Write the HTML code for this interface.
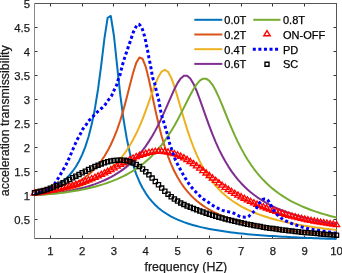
<!DOCTYPE html>
<html><head><meta charset="utf-8"><style>
html,body{margin:0;padding:0;background:#fff;}
body{width:342px;height:273px;overflow:hidden;font-family:"Liberation Sans", sans-serif;}
svg{display:block;will-change:transform;}
</style></head><body>
<svg width="342" height="273" viewBox="0 0 342 273">
<path d="M50.50,238.5 v-3 M50.50,3.5 v3 M82.50,238.5 v-3 M82.50,3.5 v3 M113.50,238.5 v-3 M113.50,3.5 v3 M145.50,238.5 v-3 M145.50,3.5 v3 M177.50,238.5 v-3 M177.50,3.5 v3 M209.50,238.5 v-3 M209.50,3.5 v3 M241.50,238.5 v-3 M241.50,3.5 v3 M272.50,238.5 v-3 M272.50,3.5 v3 M304.50,238.5 v-3 M304.50,3.5 v3 M336.50,238.5 v-3 M336.50,3.5 v3 M34.5,219.50 h3 M336.5,219.50 h-3 M34.5,195.50 h3 M336.5,195.50 h-3 M34.5,171.50 h3 M336.5,171.50 h-3 M34.5,147.50 h3 M336.5,147.50 h-3 M34.5,123.50 h3 M336.5,123.50 h-3 M34.5,99.50 h3 M336.5,99.50 h-3 M34.5,75.50 h3 M336.5,75.50 h-3 M34.5,51.50 h3 M336.5,51.50 h-3 M34.5,27.50 h3 M336.5,27.50 h-3 M34.5,3.50 h3 M336.5,3.50 h-3" stroke="#333" stroke-width="1" fill="none"/>
<path d="M34.5,3.5 H336.5 V238.5 H34.5" fill="none" stroke="#555" stroke-width="1"/>
<path d="M34.5,3 V239" fill="none" stroke="#8a8a8a" stroke-width="1"/>
<path d="M34.50,193.89 L37.68,193.23 L40.86,192.42 L44.04,191.46 L47.22,190.33 L50.39,189.00 L53.57,187.46 L56.75,185.67 L59.93,183.60 L63.11,181.19 L66.29,178.38 L69.47,175.11 L72.65,171.26 L75.83,166.70 L79.01,161.25 L82.18,154.68 L85.36,146.67 L88.54,136.76 L91.72,124.36 L94.90,108.71 L98.08,88.97 L101.26,64.85 L104.44,38.47 L107.62,17.89 L110.79,15.97 L113.97,36.00 L117.15,66.19 L120.33,95.27 L123.51,119.27 L126.69,138.17 L129.87,152.97 L133.05,164.67 L136.23,174.06 L139.41,181.71 L142.58,188.03 L145.76,193.33 L148.94,197.82 L152.12,201.67 L155.30,205.00 L158.48,207.91 L161.66,210.46 L164.84,212.72 L168.02,214.73 L171.19,216.53 L174.37,218.15 L177.55,219.61 L180.73,220.94 L183.91,222.15 L187.09,223.25 L190.27,224.27 L193.45,225.20 L196.63,226.06 L199.81,226.86 L202.98,227.60 L206.16,228.28 L209.34,228.92 L212.52,229.52 L215.70,230.08 L218.88,230.60 L222.06,231.09 L225.24,231.55 L228.42,231.99 L231.59,232.39 L234.77,232.78 L237.95,233.14 L241.13,233.49 L244.31,233.82 L247.49,234.13 L250.67,234.42 L253.85,234.70 L257.03,234.97 L260.21,235.22 L263.38,235.46 L266.56,235.69 L269.74,235.91 L272.92,236.12 L276.10,236.32 L279.28,236.51 L282.46,236.70 L285.64,236.87 L288.82,237.04 L291.99,237.21 L295.17,237.36 L298.35,237.51 L301.53,237.66 L304.71,237.79 L307.89,237.93 L311.07,238.06 L314.25,238.18 L317.43,238.30 L320.61,238.41 L323.78,238.53 L326.96,238.63 L330.14,238.74 L333.32,238.84 L336.50,238.93" fill="none" stroke="#0072BD" stroke-width="2.00" stroke-linejoin="round"/>
<path d="M34.50,194.56 L37.68,194.21 L40.86,193.80 L44.04,193.31 L47.22,192.74 L50.39,192.09 L53.57,191.35 L56.75,190.52 L59.93,189.59 L63.11,188.55 L66.29,187.39 L69.47,186.09 L72.65,184.65 L75.83,183.04 L79.01,181.25 L82.18,179.24 L85.36,177.01 L88.54,174.50 L91.72,171.68 L94.90,168.51 L98.08,164.92 L101.26,160.84 L104.44,156.19 L107.62,150.86 L110.79,144.75 L113.97,137.70 L117.15,129.58 L120.33,120.24 L123.51,109.62 L126.69,97.79 L129.87,85.21 L133.05,72.94 L136.23,62.87 L139.41,57.51 L142.58,58.80 L145.76,66.84 L148.94,79.70 L152.12,94.72 L155.30,109.81 L158.48,123.78 L161.66,136.19 L164.84,146.98 L168.02,156.29 L171.19,164.31 L174.37,171.23 L177.55,177.24 L180.73,182.47 L183.91,187.06 L187.09,191.11 L190.27,194.69 L193.45,197.89 L196.63,200.74 L199.81,203.32 L202.98,205.64 L206.16,207.75 L209.34,209.66 L212.52,211.42 L215.70,213.02 L218.88,214.50 L222.06,215.86 L225.24,217.12 L228.42,218.28 L231.59,219.37 L234.77,220.37 L237.95,221.31 L241.13,222.19 L244.31,223.02 L247.49,223.79 L250.67,224.51 L253.85,225.19 L257.03,225.84 L260.21,226.44 L263.38,227.02 L266.56,227.56 L269.74,228.08 L272.92,228.56 L276.10,229.03 L279.28,229.47 L282.46,229.88 L285.64,230.28 L288.82,230.66 L291.99,231.03 L295.17,231.37 L298.35,231.70 L301.53,232.02 L304.71,232.32 L307.89,232.61 L311.07,232.89 L314.25,233.16 L317.43,233.42 L320.61,233.66 L323.78,233.90 L326.96,234.13 L330.14,234.35 L333.32,234.56 L336.50,234.76" fill="none" stroke="#D95319" stroke-width="2.00" stroke-linejoin="round"/>
<path d="M34.50,194.81 L37.68,194.57 L40.86,194.29 L44.04,193.96 L47.22,193.58 L50.39,193.15 L53.57,192.67 L56.75,192.13 L59.93,191.53 L63.11,190.86 L66.29,190.13 L69.47,189.33 L72.65,188.45 L75.83,187.49 L79.01,186.44 L82.18,185.28 L85.36,184.03 L88.54,182.65 L91.72,181.15 L94.90,179.50 L98.08,177.70 L101.26,175.72 L104.44,173.54 L107.62,171.15 L110.79,168.50 L113.97,165.58 L117.15,162.35 L120.33,158.75 L123.51,154.76 L126.69,150.30 L129.87,145.32 L133.05,139.76 L136.23,133.55 L139.41,126.65 L142.58,119.03 L145.76,110.73 L148.94,101.90 L152.12,92.85 L155.30,84.17 L158.48,76.71 L161.66,71.56 L164.84,69.75 L168.02,71.85 L171.19,77.70 L174.37,86.42 L177.55,96.86 L180.73,107.92 L183.91,118.83 L187.09,129.10 L190.27,138.52 L193.45,147.02 L196.63,154.63 L199.81,161.40 L202.98,167.44 L206.16,172.82 L209.34,177.62 L212.52,181.92 L215.70,185.79 L218.88,189.28 L222.06,192.43 L225.24,195.29 L228.42,197.90 L231.59,200.28 L234.77,202.46 L237.95,204.47 L241.13,206.32 L244.31,208.02 L247.49,209.60 L250.67,211.07 L253.85,212.43 L257.03,213.70 L260.21,214.89 L263.38,216.00 L266.56,217.04 L269.74,218.02 L272.92,218.93 L276.10,219.80 L279.28,220.62 L282.46,221.39 L285.64,222.12 L288.82,222.81 L291.99,223.46 L295.17,224.08 L298.35,224.67 L301.53,225.23 L304.71,225.77 L307.89,226.28 L311.07,226.76 L314.25,227.23 L317.43,227.67 L320.61,228.09 L323.78,228.50 L326.96,228.89 L330.14,229.26 L333.32,229.62 L336.50,229.96" fill="none" stroke="#EDB120" stroke-width="2.00" stroke-linejoin="round"/>
<path d="M34.50,194.93 L37.68,194.75 L40.86,194.54 L44.04,194.29 L47.22,194.01 L50.39,193.69 L53.57,193.33 L56.75,192.93 L59.93,192.48 L63.11,192.00 L66.29,191.47 L69.47,190.89 L72.65,190.25 L75.83,189.57 L79.01,188.83 L82.18,188.02 L85.36,187.15 L88.54,186.21 L91.72,185.19 L94.90,184.10 L98.08,182.91 L101.26,181.63 L104.44,180.24 L107.62,178.74 L110.79,177.11 L113.97,175.35 L117.15,173.44 L120.33,171.36 L123.51,169.09 L126.69,166.62 L129.87,163.93 L133.05,160.98 L136.23,157.76 L139.41,154.22 L142.58,150.34 L145.76,146.07 L148.94,141.39 L152.12,136.25 L155.30,130.63 L158.48,124.52 L161.66,117.93 L164.84,110.92 L168.02,103.63 L171.19,96.29 L174.37,89.27 L177.55,83.10 L180.73,78.41 L183.91,75.83 L187.09,75.83 L190.27,78.56 L193.45,83.78 L196.63,90.93 L199.81,99.34 L202.98,108.33 L206.16,117.40 L209.34,126.17 L212.52,134.44 L215.70,142.10 L218.88,149.12 L222.06,155.52 L225.24,161.32 L228.42,166.59 L231.59,171.36 L234.77,175.68 L237.95,179.62 L241.13,183.20 L244.31,186.48 L247.49,189.47 L250.67,192.21 L253.85,194.74 L257.03,197.06 L260.21,199.21 L263.38,201.20 L266.56,203.05 L269.74,204.76 L272.92,206.36 L276.10,207.85 L279.28,209.25 L282.46,210.55 L285.64,211.78 L288.82,212.93 L291.99,214.02 L295.17,215.04 L298.35,216.00 L301.53,216.92 L304.71,217.78 L307.89,218.60 L311.07,219.37 L314.25,220.11 L317.43,220.81 L320.61,221.48 L323.78,222.11 L326.96,222.72 L330.14,223.29 L333.32,223.84 L336.50,224.37" fill="none" stroke="#7E2F8E" stroke-width="2.00" stroke-linejoin="round"/>
<path d="M34.50,195.01 L37.68,194.87 L40.86,194.70 L44.04,194.50 L47.22,194.28 L50.39,194.02 L53.57,193.74 L56.75,193.42 L59.93,193.07 L63.11,192.69 L66.29,192.28 L69.47,191.82 L72.65,191.34 L75.83,190.81 L79.01,190.24 L82.18,189.63 L85.36,188.97 L88.54,188.26 L91.72,187.50 L94.90,186.69 L98.08,185.82 L101.26,184.88 L104.44,183.88 L107.62,182.81 L110.79,181.66 L113.97,180.42 L117.15,179.10 L120.33,177.68 L123.51,176.15 L126.69,174.51 L129.87,172.74 L133.05,170.83 L136.23,168.77 L139.41,166.55 L142.58,164.15 L145.76,161.55 L148.94,158.73 L152.12,155.67 L155.30,152.36 L158.48,148.75 L161.66,144.84 L164.84,140.59 L168.02,135.98 L171.19,131.00 L174.37,125.65 L177.55,119.93 L180.73,113.90 L183.91,107.64 L187.09,101.28 L190.27,95.07 L193.45,89.30 L196.63,84.36 L199.81,80.69 L202.98,78.70 L206.16,78.70 L209.34,80.79 L212.52,84.83 L215.70,90.50 L218.88,97.34 L222.06,104.90 L225.24,112.75 L228.42,120.58 L231.59,128.16 L234.77,135.36 L237.95,142.11 L241.13,148.36 L244.31,154.14 L247.49,159.44 L250.67,164.31 L253.85,168.77 L257.03,172.87 L260.21,176.63 L263.38,180.08 L266.56,183.26 L269.74,186.19 L272.92,188.90 L276.10,191.41 L279.28,193.74 L282.46,195.89 L285.64,197.90 L288.82,199.78 L291.99,201.53 L295.17,203.17 L298.35,204.70 L301.53,206.14 L304.71,207.49 L307.89,208.77 L311.07,209.97 L314.25,211.10 L317.43,212.17 L320.61,213.19 L323.78,214.15 L326.96,215.06 L330.14,215.93 L333.32,216.75 L336.50,217.53" fill="none" stroke="#77AC30" stroke-width="2.00" stroke-linejoin="round"/>
<path d="M34.50,189.86 L37.70,195.06 L31.30,195.06 Z M37.68,189.39 L40.88,194.59 L34.48,194.59 Z M40.86,188.90 L44.06,194.10 L37.66,194.10 Z M44.04,188.38 L47.24,193.58 L40.84,193.58 Z M47.22,187.83 L50.42,193.03 L44.02,193.03 Z M50.39,187.25 L53.59,192.45 L47.19,192.45 Z M53.57,186.64 L56.77,191.84 L50.37,191.84 Z M56.75,185.99 L59.95,191.19 L53.55,191.19 Z M59.93,185.30 L63.13,190.50 L56.73,190.50 Z M63.11,184.56 L66.31,189.76 L59.91,189.76 Z M66.29,183.78 L69.49,188.98 L63.09,188.98 Z M69.47,182.95 L72.67,188.15 L66.27,188.15 Z M72.65,182.07 L75.85,187.27 L69.45,187.27 Z M75.83,181.13 L79.03,186.33 L72.63,186.33 Z M79.01,180.13 L82.21,185.33 L75.81,185.33 Z M82.18,179.07 L85.38,184.27 L78.98,184.27 Z M85.36,177.95 L88.56,183.15 L82.16,183.15 Z M88.54,176.76 L91.74,181.96 L85.34,181.96 Z M91.72,175.50 L94.92,180.70 L88.52,180.70 Z M94.90,174.16 L98.10,179.36 L91.70,179.36 Z M98.08,172.75 L101.28,177.95 L94.88,177.95 Z M101.26,171.26 L104.46,176.46 L98.06,176.46 Z M104.44,169.69 L107.64,174.89 L101.24,174.89 Z M107.62,168.06 L110.82,173.26 L104.42,173.26 Z M110.79,166.38 L113.99,171.58 L107.59,171.58 Z M113.97,164.68 L117.17,169.88 L110.77,169.88 Z M117.15,162.96 L120.35,168.16 L113.95,168.16 Z M120.33,161.26 L123.53,166.46 L117.13,166.46 Z M123.51,159.57 L126.71,164.77 L120.31,164.77 Z M126.69,157.94 L129.89,163.14 L123.49,163.14 Z M129.87,156.36 L133.07,161.56 L126.67,161.56 Z M133.05,154.87 L136.25,160.07 L129.85,160.07 Z M136.23,153.48 L139.43,158.68 L133.03,158.68 Z M139.41,152.20 L142.61,157.40 L136.21,157.40 Z M142.58,151.06 L145.78,156.26 L139.38,156.26 Z M145.76,150.07 L148.96,155.27 L142.56,155.27 Z M148.94,149.25 L152.14,154.45 L145.74,154.45 Z M152.12,148.62 L155.32,153.82 L148.92,153.82 Z M155.30,148.20 L158.50,153.40 L152.10,153.40 Z M158.48,148.00 L161.68,153.20 L155.28,153.20 Z M161.66,148.04 L164.86,153.24 L158.46,153.24 Z M164.84,148.32 L168.04,153.52 L161.64,153.52 Z M168.02,148.83 L171.22,154.03 L164.82,154.03 Z M171.19,149.57 L174.39,154.77 L167.99,154.77 Z M174.37,150.52 L177.57,155.72 L171.17,155.72 Z M177.55,151.68 L180.75,156.88 L174.35,156.88 Z M180.73,153.04 L183.93,158.24 L177.53,158.24 Z M183.91,154.61 L187.11,159.81 L180.71,159.81 Z M187.09,156.36 L190.29,161.56 L183.89,161.56 Z M190.27,158.29 L193.47,163.49 L187.07,163.49 Z M193.45,160.39 L196.65,165.59 L190.25,165.59 Z M196.63,162.61 L199.83,167.81 L193.43,167.81 Z M199.81,164.94 L203.01,170.14 L196.61,170.14 Z M202.98,167.35 L206.18,172.55 L199.78,172.55 Z M206.16,169.81 L209.36,175.01 L202.96,175.01 Z M209.34,172.29 L212.54,177.49 L206.14,177.49 Z M212.52,174.78 L215.72,179.98 L209.32,179.98 Z M215.70,177.24 L218.90,182.44 L212.50,182.44 Z M218.88,179.65 L222.08,184.85 L215.68,184.85 Z M222.06,181.97 L225.26,187.17 L218.86,187.17 Z M225.24,184.20 L228.44,189.40 L222.04,189.40 Z M228.42,186.30 L231.62,191.50 L225.22,191.50 Z M231.59,188.27 L234.79,193.47 L228.39,193.47 Z M234.77,190.14 L237.97,195.34 L231.57,195.34 Z M237.95,191.91 L241.15,197.11 L234.75,197.11 Z M241.13,193.60 L244.33,198.80 L237.93,198.80 Z M244.31,195.21 L247.51,200.41 L241.11,200.41 Z M247.49,196.76 L250.69,201.96 L244.29,201.96 Z M250.67,198.25 L253.87,203.45 L247.47,203.45 Z M253.85,199.68 L257.05,204.88 L250.65,204.88 Z M257.03,201.05 L260.23,206.25 L253.83,206.25 Z M260.21,202.37 L263.41,207.57 L257.01,207.57 Z M263.38,203.64 L266.58,208.84 L260.18,208.84 Z M266.56,204.85 L269.76,210.05 L263.36,210.05 Z M269.74,206.02 L272.94,211.22 L266.54,211.22 Z M272.92,207.13 L276.12,212.33 L269.72,212.33 Z M276.10,208.20 L279.30,213.40 L272.90,213.40 Z M279.28,209.22 L282.48,214.42 L276.08,214.42 Z M282.46,210.20 L285.66,215.40 L279.26,215.40 Z M285.64,211.14 L288.84,216.34 L282.44,216.34 Z M288.82,212.03 L292.02,217.23 L285.62,217.23 Z M291.99,212.88 L295.19,218.08 L288.79,218.08 Z M295.17,213.69 L298.37,218.89 L291.97,218.89 Z M298.35,214.47 L301.55,219.67 L295.15,219.67 Z M301.53,215.21 L304.73,220.41 L298.33,220.41 Z M304.71,215.92 L307.91,221.12 L301.51,221.12 Z M307.89,216.59 L311.09,221.79 L304.69,221.79 Z M311.07,217.23 L314.27,222.43 L307.87,222.43 Z M314.25,217.84 L317.45,223.04 L311.05,223.04 Z M317.43,218.43 L320.63,223.63 L314.23,223.63 Z M320.61,218.98 L323.81,224.18 L317.41,224.18 Z M323.78,219.51 L326.98,224.71 L320.58,224.71 Z M326.96,220.02 L330.16,225.22 L323.76,225.22 Z M330.14,220.50 L333.34,225.70 L326.94,225.70 Z M333.32,220.96 L336.52,226.16 L330.12,226.16 Z M336.50,221.40 L339.70,226.60 L333.30,226.60 Z" fill="none" stroke="#FF0000" stroke-width="1.30" stroke-linejoin="miter"/>
<path d="M34.50,193.42 L35.14,193.39 L35.77,193.35 L36.41,193.28 L37.04,193.20 L37.68,193.10 L38.31,192.99 L38.95,192.87 L39.59,192.74 L40.22,192.60 L40.86,192.46 L41.49,192.30 L42.13,192.10 L42.77,191.87 L43.40,191.62 L44.04,191.34 L44.67,191.05 L45.31,190.74 L45.94,190.43 L46.58,190.13 L47.22,189.82 L47.85,189.53 L48.49,189.23 L49.12,188.91 L49.76,188.55 L50.39,188.14 L51.03,187.65 L51.67,187.06 L52.30,186.41 L52.94,185.69 L53.57,184.93 L54.21,184.16 L54.85,183.35 L55.48,182.48 L56.12,181.55 L56.75,180.58 L57.39,179.58 L58.02,178.57 L58.66,177.51 L59.30,176.42 L59.93,175.31 L60.57,174.20 L61.20,173.12 L61.84,172.06 L62.47,171.00 L63.11,169.93 L63.75,168.83 L64.38,167.72 L65.02,166.59 L65.65,165.42 L66.29,164.21 L66.93,162.93 L67.56,161.58 L68.20,160.20 L68.83,158.82 L69.47,157.41 L70.10,155.97 L70.74,154.50 L71.38,153.00 L72.01,151.48 L72.65,149.97 L73.28,148.46 L73.92,146.95 L74.55,145.44 L75.19,143.99 L75.83,142.61 L76.46,141.27 L77.10,139.97 L77.73,138.73 L78.37,137.57 L79.01,136.47 L79.64,135.37 L80.28,134.18 L80.91,132.85 L81.55,131.47 L82.18,130.19 L82.82,129.12 L83.46,128.23 L84.09,127.43 L84.73,126.66 L85.36,125.85 L86.00,124.96 L86.63,123.97 L87.27,122.96 L87.91,121.98 L88.54,121.10 L89.18,120.36 L89.81,119.69 L90.45,119.08 L91.09,118.49 L91.72,117.89 L92.36,117.24 L92.99,116.55 L93.63,115.82 L94.26,115.09 L94.90,114.37 L95.54,113.67 L96.17,113.03 L96.81,112.41 L97.44,111.83 L98.08,111.26 L98.71,110.70 L99.35,110.15 L99.99,109.59 L100.62,109.04 L101.26,108.52 L101.89,108.01 L102.53,107.48 L103.17,106.91 L103.80,106.29 L104.44,105.58 L105.07,104.75 L105.71,103.82 L106.34,102.85 L106.98,101.88 L107.62,100.96 L108.25,100.14 L108.89,99.38 L109.52,98.63 L110.16,97.84 L110.79,96.96 L111.43,95.93 L112.07,94.69 L112.70,93.31 L113.34,91.87 L113.97,90.48 L114.61,89.20 L115.25,88.00 L115.88,86.72 L116.52,85.22 L117.15,83.19 L117.79,80.91 L118.42,79.02 L119.06,77.43 L119.70,75.81 L120.33,73.82 L120.97,71.19 L121.60,68.36 L122.24,65.86 L122.87,63.58 L123.51,61.42 L124.15,59.34 L124.78,57.33 L125.42,55.40 L126.05,53.52 L126.69,51.65 L127.33,49.78 L127.96,47.93 L128.60,46.09 L129.23,44.25 L129.87,42.41 L130.50,40.56 L131.14,38.70 L131.78,36.74 L132.41,34.74 L133.05,32.92 L133.68,31.35 L134.32,29.91 L134.95,28.63 L135.59,27.52 L136.23,26.37 L136.86,25.29 L137.50,24.48 L138.13,24.13 L138.77,24.25 L139.41,24.65 L140.04,25.27 L140.68,26.05 L141.31,26.91 L141.95,28.10 L142.58,29.86 L143.22,31.88 L143.86,33.89 L144.49,36.01 L145.13,38.44 L145.76,41.51 L146.40,44.91 L147.03,47.91 L147.67,50.90 L148.31,54.33 L148.94,57.84 L149.58,60.94 L150.21,63.91 L150.85,67.29 L151.49,71.20 L152.12,74.98 L152.76,77.99 L153.39,79.82 L154.03,81.38 L154.66,83.40 L155.30,86.30 L155.94,89.22 L156.57,91.97 L157.21,94.50 L157.84,96.62 L158.48,98.88 L159.11,102.07 L159.75,105.86 L160.39,109.27 L161.02,112.53 L161.66,115.36 L162.29,117.59 L162.93,119.53 L163.57,121.51 L164.20,123.57 L164.84,125.65 L165.47,127.79 L166.11,129.97 L166.74,132.19 L167.38,134.41 L168.02,136.68 L168.65,139.17 L169.29,142.01 L169.92,144.44 L170.56,146.27 L171.19,147.93 L171.83,149.76 L172.47,151.70 L173.10,153.61 L173.74,155.49 L174.37,157.32 L175.01,158.98 L175.65,160.43 L176.28,161.75 L176.92,163.02 L177.55,164.24 L178.19,165.41 L178.82,166.57 L179.46,167.73 L180.10,168.94 L180.73,170.15 L181.37,171.35 L182.00,172.51 L182.64,173.63 L183.27,174.71 L183.91,175.78 L184.55,176.85 L185.18,177.92 L185.82,178.99 L186.45,180.05 L187.09,181.08 L187.73,182.05 L188.36,182.99 L189.00,183.91 L189.63,184.79 L190.27,185.65 L190.90,186.47 L191.54,187.26 L192.18,188.04 L192.81,188.78 L193.45,189.51 L194.08,190.21 L194.72,190.88 L195.35,191.52 L195.99,192.15 L196.63,192.77 L197.26,193.38 L197.90,194.00 L198.53,194.63 L199.17,195.29 L199.81,195.96 L200.44,196.61 L201.08,197.24 L201.71,197.82 L202.35,198.34 L202.98,198.80 L203.62,199.22 L204.26,199.62 L204.89,200.00 L205.53,200.38 L206.16,200.77 L206.80,201.19 L207.43,201.62 L208.07,202.07 L208.71,202.52 L209.34,202.98 L209.98,203.44 L210.61,203.89 L211.25,204.33 L211.89,204.77 L212.52,205.22 L213.16,205.66 L213.79,206.08 L214.43,206.48 L215.06,206.84 L215.70,207.16 L216.34,207.46 L216.97,207.77 L217.61,208.10 L218.24,208.44 L218.88,208.77 L219.51,209.10 L220.15,209.41 L220.79,209.70 L221.42,209.95 L222.06,210.18 L222.69,210.38 L223.33,210.57 L223.97,210.75 L224.60,210.92 L225.24,211.08 L225.87,211.23 L226.51,211.38 L227.14,211.52 L227.78,211.64 L228.42,211.76 L229.05,211.86 L229.69,211.97 L230.32,212.09 L230.96,212.22 L231.59,212.37 L232.23,212.54 L232.87,212.78 L233.50,213.09 L234.14,213.43 L234.77,213.80 L235.41,214.17 L236.05,214.53 L236.68,214.85 L237.32,215.14 L237.95,215.45 L238.59,215.77 L239.22,216.08 L239.86,216.37 L240.50,216.62 L241.13,216.82 L241.77,216.96 L242.40,217.03 L243.04,217.07 L243.67,217.11 L244.31,217.14 L244.95,217.16 L245.58,217.18 L246.22,217.20 L246.85,217.21 L247.49,217.15 L248.13,216.86 L248.76,216.38 L249.40,215.76 L250.03,215.08 L250.67,214.41 L251.30,213.81 L251.94,213.26 L252.58,212.71 L253.21,212.15 L253.85,211.54 L254.48,210.88 L255.12,210.15 L255.75,209.29 L256.39,208.20 L257.03,207.02 L257.66,205.86 L258.30,204.82 L258.93,203.81 L259.57,202.81 L260.21,201.88 L260.84,201.08 L261.48,200.46 L262.11,199.92 L262.75,199.43 L263.38,199.07 L264.02,198.93 L264.66,198.96 L265.29,199.02 L265.93,199.11 L266.56,199.24 L267.20,199.59 L267.83,200.24 L268.47,201.10 L269.11,202.08 L269.74,203.10 L270.38,204.13 L271.01,205.40 L271.65,206.77 L272.29,208.06 L272.92,209.14 L273.56,210.12 L274.19,211.04 L274.83,211.90 L275.46,212.70 L276.10,213.45 L276.74,214.17 L277.37,214.84 L278.01,215.48 L278.64,216.09 L279.28,216.65 L279.91,217.18 L280.55,217.68 L281.19,218.15 L281.82,218.60 L282.46,219.02 L283.09,219.42 L283.73,219.80 L284.37,220.15 L285.00,220.48 L285.64,220.80 L286.27,221.10 L286.91,221.39 L287.54,221.68 L288.18,221.96 L288.82,222.23 L289.45,222.51 L290.09,222.78 L290.72,223.05 L291.36,223.32 L291.99,223.58 L292.63,223.83 L293.27,224.08 L293.90,224.33 L294.54,224.57 L295.17,224.80 L295.81,225.03 L296.45,225.26 L297.08,225.48 L297.72,225.70 L298.35,225.91 L298.99,226.12 L299.62,226.32 L300.26,226.52 L300.90,226.72 L301.53,226.92 L302.17,227.12 L302.80,227.31 L303.44,227.49 L304.07,227.67 L304.71,227.84 L305.35,228.01 L305.98,228.16 L306.62,228.31 L307.25,228.45 L307.89,228.59 L308.53,228.72 L309.16,228.85 L309.80,228.97 L310.43,229.09 L311.07,229.21 L311.70,229.32 L312.34,229.42 L312.98,229.53 L313.61,229.63 L314.25,229.72 L314.88,229.82 L315.52,229.92 L316.15,230.02 L316.79,230.12 L317.43,230.23 L318.06,230.34 L318.70,230.46 L319.33,230.57 L319.97,230.68 L320.61,230.79 L321.24,230.90 L321.88,231.00 L322.51,231.09 L323.15,231.18 L323.78,231.27 L324.42,231.35 L325.06,231.43 L325.69,231.52 L326.33,231.60 L326.96,231.69 L327.60,231.79 L328.23,231.89 L328.87,231.99 L329.51,232.10 L330.14,232.22 L330.78,232.33 L331.41,232.45 L332.05,232.56 L332.69,232.66 L333.32,232.76 L333.96,232.86 L334.59,232.95 L335.23,233.05 L335.86,233.14 L336.50,233.22" fill="none" stroke="#0000FF" stroke-width="3.00" stroke-dasharray="3 2.57" stroke-linecap="butt"/>
<path d="M32.40,190.61 h4.20 v4.20 h-4.20 Z M35.58,190.02 h4.20 v4.20 h-4.20 Z M38.76,189.27 h4.20 v4.20 h-4.20 Z M41.94,188.37 h4.20 v4.20 h-4.20 Z M45.12,187.33 h4.20 v4.20 h-4.20 Z M48.29,186.17 h4.20 v4.20 h-4.20 Z M51.47,184.89 h4.20 v4.20 h-4.20 Z M54.65,183.53 h4.20 v4.20 h-4.20 Z M57.83,182.07 h4.20 v4.20 h-4.20 Z M61.01,180.55 h4.20 v4.20 h-4.20 Z M64.19,178.97 h4.20 v4.20 h-4.20 Z M67.37,177.35 h4.20 v4.20 h-4.20 Z M70.55,175.70 h4.20 v4.20 h-4.20 Z M73.73,174.03 h4.20 v4.20 h-4.20 Z M76.91,172.36 h4.20 v4.20 h-4.20 Z M80.08,170.70 h4.20 v4.20 h-4.20 Z M83.26,169.06 h4.20 v4.20 h-4.20 Z M86.44,167.46 h4.20 v4.20 h-4.20 Z M89.62,165.92 h4.20 v4.20 h-4.20 Z M92.80,164.44 h4.20 v4.20 h-4.20 Z M95.98,163.05 h4.20 v4.20 h-4.20 Z M99.16,161.78 h4.20 v4.20 h-4.20 Z M102.34,160.65 h4.20 v4.20 h-4.20 Z M105.52,159.69 h4.20 v4.20 h-4.20 Z M108.69,158.92 h4.20 v4.20 h-4.20 Z M111.87,158.36 h4.20 v4.20 h-4.20 Z M115.05,158.04 h4.20 v4.20 h-4.20 Z M118.23,157.98 h4.20 v4.20 h-4.20 Z M121.41,158.21 h4.20 v4.20 h-4.20 Z M124.59,158.75 h4.20 v4.20 h-4.20 Z M127.77,159.63 h4.20 v4.20 h-4.20 Z M130.95,160.86 h4.20 v4.20 h-4.20 Z M134.13,162.47 h4.20 v4.20 h-4.20 Z M137.31,164.50 h4.20 v4.20 h-4.20 Z M140.48,166.93 h4.20 v4.20 h-4.20 Z M143.66,169.72 h4.20 v4.20 h-4.20 Z M146.84,172.77 h4.20 v4.20 h-4.20 Z M150.02,176.00 h4.20 v4.20 h-4.20 Z M153.20,179.34 h4.20 v4.20 h-4.20 Z M156.38,182.69 h4.20 v4.20 h-4.20 Z M159.56,185.99 h4.20 v4.20 h-4.20 Z M162.74,189.13 h4.20 v4.20 h-4.20 Z M165.92,192.05 h4.20 v4.20 h-4.20 Z M169.09,194.66 h4.20 v4.20 h-4.20 Z M172.27,196.97 h4.20 v4.20 h-4.20 Z M175.45,199.00 h4.20 v4.20 h-4.20 Z M178.63,200.80 h4.20 v4.20 h-4.20 Z M181.81,202.41 h4.20 v4.20 h-4.20 Z M184.99,203.87 h4.20 v4.20 h-4.20 Z M188.17,205.20 h4.20 v4.20 h-4.20 Z M191.35,206.46 h4.20 v4.20 h-4.20 Z M194.53,207.66 h4.20 v4.20 h-4.20 Z M197.71,208.83 h4.20 v4.20 h-4.20 Z M200.88,209.96 h4.20 v4.20 h-4.20 Z M204.06,211.05 h4.20 v4.20 h-4.20 Z M207.24,212.10 h4.20 v4.20 h-4.20 Z M210.42,213.11 h4.20 v4.20 h-4.20 Z M213.60,214.09 h4.20 v4.20 h-4.20 Z M216.78,215.04 h4.20 v4.20 h-4.20 Z M219.96,215.94 h4.20 v4.20 h-4.20 Z M223.14,216.82 h4.20 v4.20 h-4.20 Z M226.32,217.66 h4.20 v4.20 h-4.20 Z M229.49,218.47 h4.20 v4.20 h-4.20 Z M232.67,219.25 h4.20 v4.20 h-4.20 Z M235.85,220.00 h4.20 v4.20 h-4.20 Z M239.03,220.72 h4.20 v4.20 h-4.20 Z M242.21,221.42 h4.20 v4.20 h-4.20 Z M245.39,222.08 h4.20 v4.20 h-4.20 Z M248.57,222.72 h4.20 v4.20 h-4.20 Z M251.75,223.33 h4.20 v4.20 h-4.20 Z M254.93,223.92 h4.20 v4.20 h-4.20 Z M258.11,224.49 h4.20 v4.20 h-4.20 Z M261.28,225.03 h4.20 v4.20 h-4.20 Z M264.46,225.54 h4.20 v4.20 h-4.20 Z M267.64,226.04 h4.20 v4.20 h-4.20 Z M270.82,226.52 h4.20 v4.20 h-4.20 Z M274.00,226.98 h4.20 v4.20 h-4.20 Z M277.18,227.41 h4.20 v4.20 h-4.20 Z M280.36,227.83 h4.20 v4.20 h-4.20 Z M283.54,228.24 h4.20 v4.20 h-4.20 Z M286.72,228.62 h4.20 v4.20 h-4.20 Z M289.89,229.00 h4.20 v4.20 h-4.20 Z M293.07,229.35 h4.20 v4.20 h-4.20 Z M296.25,229.70 h4.20 v4.20 h-4.20 Z M299.43,230.03 h4.20 v4.20 h-4.20 Z M302.61,230.34 h4.20 v4.20 h-4.20 Z M305.79,230.65 h4.20 v4.20 h-4.20 Z M308.97,230.95 h4.20 v4.20 h-4.20 Z M312.15,231.24 h4.20 v4.20 h-4.20 Z M315.33,231.52 h4.20 v4.20 h-4.20 Z M318.51,231.79 h4.20 v4.20 h-4.20 Z M321.68,232.05 h4.20 v4.20 h-4.20 Z M324.86,232.31 h4.20 v4.20 h-4.20 Z M328.04,232.57 h4.20 v4.20 h-4.20 Z M331.22,232.82 h4.20 v4.20 h-4.20 Z M334.40,233.06 h4.20 v4.20 h-4.20 Z" fill="none" stroke="#000" stroke-width="1.30"/>
<g font-family="Liberation Sans, sans-serif" font-size="11.3" fill="#1a1a1a" stroke="#1a1a1a" stroke-width="0.25"><text x="50.39" y="254.70" text-anchor="middle">1</text><text x="82.18" y="254.70" text-anchor="middle">2</text><text x="113.97" y="254.70" text-anchor="middle">3</text><text x="145.76" y="254.70" text-anchor="middle">4</text><text x="177.55" y="254.70" text-anchor="middle">5</text><text x="209.34" y="254.70" text-anchor="middle">6</text><text x="241.13" y="254.70" text-anchor="middle">7</text><text x="272.92" y="254.70" text-anchor="middle">8</text><text x="304.71" y="254.70" text-anchor="middle">9</text><text x="336.50" y="254.70" text-anchor="middle">10</text><text x="30.00" y="223.62" text-anchor="end">0.5</text><text x="30.00" y="199.64" text-anchor="end">1</text><text x="30.00" y="175.66" text-anchor="end">1.5</text><text x="30.00" y="151.68" text-anchor="end">2</text><text x="30.00" y="127.70" text-anchor="end">2.5</text><text x="30.00" y="103.72" text-anchor="end">3</text><text x="30.00" y="79.74" text-anchor="end">3.5</text><text x="30.00" y="55.76" text-anchor="end">4</text><text x="30.00" y="31.78" text-anchor="end">4.5</text><text x="30.00" y="7.80" text-anchor="end">5</text></g>
<text x="185.80" y="270.60" text-anchor="middle" font-family="Liberation Sans, sans-serif" font-size="12.4" fill="#1a1a1a" stroke="#1a1a1a" stroke-width="0.25">frequency (HZ)</text>
<text transform="translate(9.30,120.80) rotate(-90)" text-anchor="middle" font-family="Liberation Sans, sans-serif" font-size="12.4" fill="#1a1a1a" stroke="#1a1a1a" stroke-width="0.25">acceleration transmissibility</text>
<g font-family="Liberation Sans, sans-serif" font-size="11" fill="#000" stroke="#000" stroke-width="0.25"><path d="M194.30,19.80 H222.30" stroke="#0072BD" stroke-width="2.00"/><text x="224.30" y="23.70">0.0T</text><path d="M194.30,34.50 H222.30" stroke="#D95319" stroke-width="2.00"/><text x="224.30" y="38.60">0.2T</text><path d="M194.30,49.20 H222.30" stroke="#EDB120" stroke-width="2.00"/><text x="224.30" y="53.50">0.4T</text><path d="M194.30,63.90 H222.30" stroke="#7E2F8E" stroke-width="2.00"/><text x="224.30" y="68.40">0.6T</text><path d="M253.30,19.80 H280.50" stroke="#77AC30" stroke-width="2.00"/><text x="283.00" y="23.70">0.8T</text><path d="M267.00,30.60 L270.20,35.80 L263.80,35.80 Z" fill="none" stroke="#FF0000" stroke-width="1.40"/><text x="283.00" y="38.60">ON-OFF</text><path d="M252.80,49.20 H278.20" stroke="#0000FF" stroke-width="3.00" stroke-dasharray="3 2.57"/><text x="283.00" y="53.50">PD</text><path d="M265.00,62.30 h4.00 v4.00 h-4.00 Z" fill="none" stroke="#000" stroke-width="1.40"/><text x="283.00" y="68.40">SC</text></g>
</svg>
</body></html>
